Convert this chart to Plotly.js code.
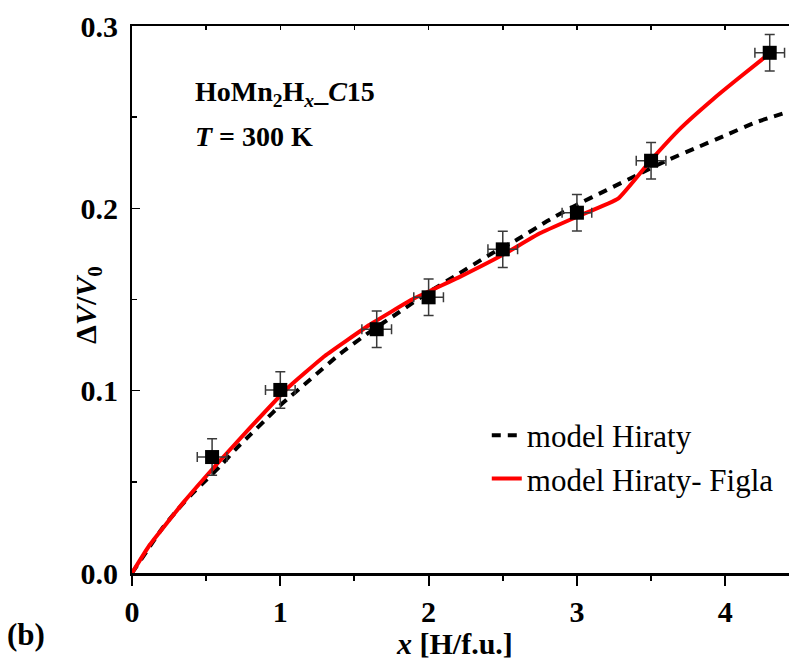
<!DOCTYPE html>
<html>
<head>
<meta charset="utf-8">
<script src="https://cdn.plot.ly/plotly-3.0.1.min.js"></script>
<style>html,body{margin:0;padding:0;background:#fff;}</style>
</head>
<body>
<div id="chart" style="width:789px;height:661px;"></div>
<script>
// Experimental points
const expX = [0.54, 1.0, 1.65, 2.0, 2.5, 3.0, 3.5, 4.3];
const expY = [0.0636, 0.1004, 0.1337, 0.1512, 0.1775, 0.1976, 0.2261, 0.2853];
const expXErr = [0.1, 0.1, 0.1, 0.1, 0.1, 0.1, 0.1, 0.1];
const expYErr = [0.01, 0.01, 0.01, 0.01, 0.01, 0.01, 0.01, 0.01];

// model Hiraty (dashed)
const hirX = [0, 0.1, 0.2, 0.3, 0.4, 0.5, 0.6, 0.7, 0.8, 0.9, 1.0, 1.2, 1.4, 1.6, 1.8, 2.0, 2.2, 2.4, 2.6, 2.8, 3.0, 3.2, 3.4, 3.6, 3.8, 4.0, 4.2, 4.43];
const hirY = [0, 0.012, 0.024, 0.034, 0.043, 0.051, 0.059, 0.068, 0.076, 0.084, 0.092, 0.106, 0.120, 0.132, 0.143, 0.154, 0.164, 0.174, 0.183, 0.193, 0.202, 0.210, 0.218, 0.226, 0.233, 0.240, 0.247, 0.253];

// model Hiraty- Figla (red)
const figX = [0, 0.12, 0.35, 0.57, 0.8, 1.05, 1.3, 1.6, 1.9, 2.2, 2.5, 2.75, 3.0, 3.28, 3.5, 3.7, 3.92, 4.1, 4.3];
const figY = [0, 0.0155, 0.039, 0.0595, 0.080, 0.1015, 0.119, 0.136, 0.1505, 0.162, 0.1745, 0.1863, 0.1954, 0.2055, 0.2265, 0.244, 0.260, 0.272, 0.285];

const serif = "'Liberation Serif', 'Times New Roman', serif";

const traces = [
  {
    x: hirX, y: hirY, type: 'scatter', mode: 'lines', name: 'model Hiraty',
    line: {color: '#000000', width: 4, dash: '9px,7px', shape: 'spline', smoothing: 0.6}
  },
  {
    x: figX, y: figY, type: 'scatter', mode: 'lines', name: 'model Hiraty- Figla',
    line: {color: '#ff0000', width: 4, shape: 'spline', smoothing: 0.35}
  },
  {
    x: expX, y: expY, type: 'scatter', mode: 'markers', showlegend: false,
    marker: {symbol: 'square', size: 14, color: '#000000'},
    error_x: {type: 'data', array: expXErr, visible: true, color: '#3a3a3a', thickness: 1.5, width: 5},
    error_y: {type: 'data', array: expYErr, visible: true, color: '#3a3a3a', thickness: 1.5, width: 5}
  },
  {
    x: [0], y: [0], xaxis: 'x2', yaxis: 'y', showlegend: false, type: 'scatter', mode: 'none', hoverinfo: 'skip'
  }
];

const layout = {
  width: 789, height: 661,
  margin: {l: 132, r: 0, t: 26, b: 88},
  paper_bgcolor: '#ffffff', plot_bgcolor: '#ffffff',
  showlegend: true,
  font: {family: serif, color: '#000000'},
  xaxis: {
    range: [0, 4.43], showgrid: false, zeroline: false,
    showline: true, linecolor: '#000', linewidth: 2.5,
    ticks: 'outside', ticklen: 10, tickwidth: 2, tickcolor: '#000',
    dtick: 1, tick0: 0,
    minor: {ticks: 'outside', dtick: 0.5, ticklen: 5, tickwidth: 2, tickcolor: '#000', showgrid: false},
    tickfont: {family: serif, size: 30, color: '#000', weight: 'bold'}
  },
  xaxis2: {
    overlaying: 'x', side: 'top', matches: 'x', range: [0, 4.43],
    showgrid: false, zeroline: false, showticklabels: false,
    showline: true, linecolor: '#000', linewidth: 2,
    ticks: 'inside', ticklen: 4, tickwidth: 1.5, tickcolor: '#000', dtick: 0.5, tick0: 0
  },
  yaxis: {
    range: [0, 0.3], showgrid: false, zeroline: false,
    showline: true, linecolor: '#000', linewidth: 2,
    ticks: 'inside', ticklen: 8, tickwidth: 1.5, tickcolor: '#000',
    dtick: 0.1, tick0: 0, tickformat: '.1f', ticklabelstandoff: 6,
    minor: {ticks: 'inside', dtick: 0.05, ticklen: 5, tickwidth: 1.5, tickcolor: '#000', showgrid: false},
    tickfont: {family: serif, size: 30, color: '#000', weight: 'bold'}
  },
  legend: {
    x: 0.54, xanchor: 'left', y: 0.212, yanchor: 'middle',
    bgcolor: 'rgba(0,0,0,0)', borderwidth: 0,
    font: {family: serif, size: 31, color: '#000'},
    itemwidth: 30, tracegroupgap: 0
  },
  annotations: [
    {xref: 'paper', yref: 'paper', x: 0.0928, y: 0.877, xanchor: 'left', yanchor: 'middle', showarrow: false,
     text: '<b>HoMn<sub>2</sub>H<sub><i>x</i></sub>_<i>C</i>15</b>', font: {family: serif, size: 28, color: '#000'}},
    {xref: 'paper', yref: 'paper', x: 0.0928, y: 0.7986, xanchor: 'left', yanchor: 'middle', showarrow: false,
     text: '<b><i>T</i> = 300 K</b>', font: {family: serif, size: 28, color: '#000'}},
    {xref: 'paper', yref: 'paper', x: -0.067, y: 0.49, xanchor: 'center', yanchor: 'middle', showarrow: false, textangle: -90,
     text: '<b>Δ<i>V</i>/<i>V</i><sub>0</sub></b>', font: {family: serif, size: 30, color: '#000'}},
    {xref: 'paper', yref: 'paper', x: 0.4916, y: -0.129, xanchor: 'center', yanchor: 'middle', showarrow: false,
     text: '<b><i>x</i> [H/f.u.]</b>', font: {family: serif, size: 30, color: '#000'}},
    {xref: 'paper', yref: 'paper', x: -0.193, y: -0.112, xanchor: 'left', yanchor: 'middle', showarrow: false,
     text: '<b>(b)</b>', font: {family: serif, size: 31, color: '#000'}}
  ]
};

Plotly.newPlot('chart', traces, layout, {displayModeBar: false, staticPlot: true});
</script>
</body>
</html>
